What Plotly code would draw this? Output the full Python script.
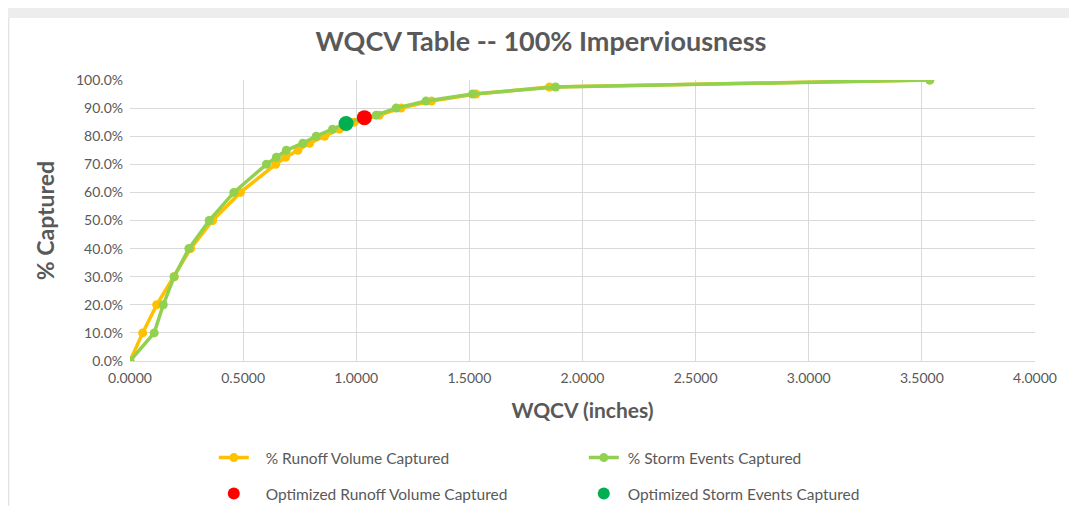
import plotly.graph_objects as go

# % captured levels (fraction)
levels = [0.0, 0.10, 0.20, 0.30, 0.40, 0.50, 0.60, 0.70, 0.725, 0.75, 0.775,
          0.80, 0.825, 0.85, 0.875, 0.90, 0.925, 0.95, 0.975, 1.00]

# WQCV (inches) for % Runoff Volume Captured
runoff_wqcv = [0.0, 0.056, 0.118, 0.195, 0.268, 0.365, 0.488, 0.644, 0.688, 0.742, 0.794,
               0.860, 0.926, 0.992, 1.102, 1.198, 1.333, 1.529, 1.854, 3.535]

# WQCV (inches) for % Storm Events Captured
storm_wqcv = [0.0, 0.107, 0.147, 0.195, 0.260, 0.350, 0.459, 0.603, 0.647, 0.691, 0.764,
              0.823, 0.895, 0.968, 1.088, 1.176, 1.308, 1.514, 1.881, 3.535]

opt_runoff_x = [1.036]
opt_runoff_y = [0.866]
opt_storm_x = [0.955]
opt_storm_y = [0.845]

x_ticks = [0, 0.5, 1.0, 1.5, 2.0, 2.5, 3.0, 3.5, 4.0]
y_ticks = [0, 0.1, 0.2, 0.3, 0.4, 0.5, 0.6, 0.7, 0.8, 0.9, 1.0]

FONT = "Lato"
GREY = "#595959"
PAD1 = "\u00a0\u00a0\u00a0"
PAD2 = "\u00a0"

fig = go.Figure()
fig.add_trace(go.Scatter(x=runoff_wqcv, y=levels, mode="lines+markers",
                         name=PAD1 + "% Runoff Volume Captured", legend="legend",
                         line=dict(color="#FFC000", width=3.5),
                         marker=dict(color="#FFC000", size=9)))
fig.add_trace(go.Scatter(x=storm_wqcv, y=levels, mode="lines+markers",
                         name=PAD2 + "% Storm Events Captured", legend="legend",
                         line=dict(color="#92D050", width=3.5),
                         marker=dict(color="#92D050", size=9)))
fig.add_trace(go.Scatter(x=opt_runoff_x, y=opt_runoff_y, mode="markers",
                         name=PAD1 + "Optimized Runoff Volume Captured", legend="legend2",
                         marker=dict(color="#FF0000", size=15)))
fig.add_trace(go.Scatter(x=opt_storm_x, y=opt_storm_y, mode="markers",
                         name=PAD2 + "Optimized Storm Events Captured", legend="legend2",
                         marker=dict(color="#00B050", size=15)))

legend_common = dict(orientation="h", x=0.0926, xanchor="left",
                     yref="container", yanchor="middle",
                     entrywidth=325, entrywidthmode="pixels",
                     font=dict(family=FONT, size=15.5, color=GREY),
                     itemwidth=30, bgcolor="rgba(0,0,0,0)")

fig.update_layout(
    width=1061, height=498,
    margin=dict(l=122, r=32, t=72, b=145),
    paper_bgcolor="white", plot_bgcolor="white",
    font=dict(family=FONT, color=GREY, size=14),
    title=dict(text="<b>WQCV Table -- 100% Imperviousness</b>",
               x=(541 - 8) / 1061, xref="container", y=(498 - 34) / 498, yref="container",
               yanchor="middle", xanchor="center",
               font=dict(family=FONT, size=27, color=GREY)),
    xaxis=dict(range=[0, 4], tickvals=x_ticks, tickformat=".4f",
               showgrid=True, gridcolor="#D9D9D9", gridwidth=1,
               zeroline=False, showline=True, linecolor="#D9D9D9",
               ticks="", ticklen=0, ticklabelstandoff=4,
               title=dict(text="<b>WQCV (inches)</b>", standoff=18,
                          font=dict(family=FONT, size=21, color=GREY))),
    yaxis=dict(range=[0, 1.0], tickvals=y_ticks, tickformat=".1%",
               showgrid=True, gridcolor="#D9D9D9", gridwidth=1,
               zeroline=False, showline=False, ticks="", ticklabelstandoff=6,
               title=dict(text="<b>% Captured</b>", standoff=14,
                          font=dict(family=FONT, size=23, color=GREY))),
    legend=dict(legend_common, y=(498 - 450) / 498, itemsizing="trace"),
    legend2=dict(legend_common, y=(498 - 486) / 498, itemsizing="constant"),
    shapes=[
        dict(type="rect", xref="paper", yref="paper", x0=-0.2, x1=1.1,
             y0=(353 - 10) / 281, y1=1.3, fillcolor="#EDEDED", line=dict(width=0), layer="below"),
        dict(type="line", xref="paper", yref="paper", x0=-121.5 / 907, x1=-121.5 / 907,
             y0=-0.6, y1=(353 - 10) / 281, line=dict(color="#D9D9D9", width=1)),
    ],
)

fig.write_html("out.html")
